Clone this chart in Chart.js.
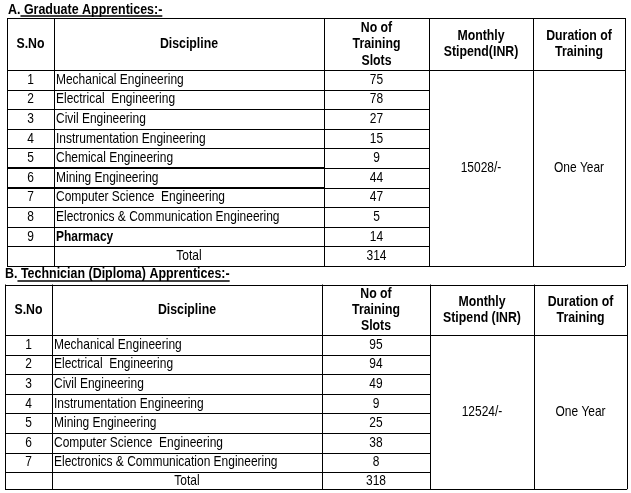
<!DOCTYPE html>
<html>
<head>
<meta charset="utf-8">
<script src="https://cdn.jsdelivr.net/npm/chart.js@4"></script>
<style>
  html, body { margin: 0; padding: 0; background: #fff; }
  #wrap { width: 631px; height: 493px; }
</style>
</head>
<body>
<div id="wrap"><canvas id="myChart" width="631" height="493"></canvas></div>
<script>
// --- data ---
const graduateTitle = "Graduate Apprentices:-";
const graduateDisciplines = [
  "Mechanical Engineering",
  "Electrical  Engineering",
  "Civil Engineering",
  "Instrumentation Engineering",
  "Chemical Engineering",
  "Mining Engineering",
  "Computer Science  Engineering",
  "Electronics & Communication Engineering",
  "Pharmacy",
];
const graduateSlots = [75, 78, 27, 15, 9, 44, 47, 5, 14];
const graduateTotal = 314;
const graduateStipend = "15028/-";
const graduateDuration = "One Year";

const diplomaTitle = "Technician (Diploma) Apprentices:-";
const diplomaDisciplines = [
  "Mechanical Engineering",
  "Electrical  Engineering",
  "Civil Engineering",
  "Instrumentation Engineering",
  "Mining Engineering",
  "Computer Science  Engineering",
  "Electronics & Communication Engineering",
];
const diplomaSlots = [95, 94, 49, 9, 25, 38, 8];
const diplomaTotal = 318;
const diplomaStipend = "12524/-";
const diplomaDuration = "One Year";

const headersA = ["S.No", "Discipline", "No of\nTraining\nSlots", "Monthly\nStipend(INR)", "Duration of\nTraining"];
const headersB = ["S.No", "Discipline", "No of\nTraining\nSlots", "Monthly\nStipend (INR)", "Duration of\nTraining"];

document.addEventListener("DOMContentLoaded", function () {
  const chartCanvas = document.getElementById("myChart");
  const ctx = chartCanvas.getContext("2d");

  // is the narrow face installed? otherwise squeeze the regular one
  const hasFont = (name) => {
    const probe = "abcdefghijklmnopqrstuvwxyz";
    ctx.font = "20px monospace";
    const a = ctx.measureText(probe).width;
    ctx.font = `20px "${name}", monospace`;
    const b = ctx.measureText(probe).width;
    return a !== b;
  };
  const narrow = hasFont("Liberation Sans Narrow");
  const FAMILY = narrow ? '"Liberation Sans Narrow"' : '"Liberation Sans", Arial';
  const SQUEEZE = narrow ? 1 : 0.82;

  // layout of each table, in page units (the scales turn them into pixels)
  const tables = [
    {
      title: "A.", sub: " " + graduateTitle, titleX: 8, titleY: 10, lineY: 16,
      headers: headersA, cols: [7, 54, 324, 429, 533, 625],
      top: 18, headBottom: 70, rowH: 19.6, totalH: 19.6, textX: 56,
      names: graduateDisciplines, slots: graduateSlots, total: graduateTotal,
      stipend: graduateStipend, duration: graduateDuration,
      boldRows: [8], thickRows: [5, 6], headLine: 16.5,
    },
    {
      title: "B.", sub: " " + diplomaTitle, titleX: 5, titleY: 274, lineY: 281,
      headers: headersB, cols: [5, 52, 322, 430, 534, 627],
      top: 284.5, headBottom: 335, rowH: 19.6, totalH: 17, textX: 54,
      names: diplomaDisciplines, slots: diplomaSlots, total: diplomaTotal,
      stipend: diplomaStipend, duration: diplomaDuration,
      boldRows: [], thickRows: [], headLine: 16,
    },
  ];

  const tablePlugin = {
    id: "tablePlugin",
    afterDraw(chart) {
      const c = chart.ctx;
      const sx = chart.scales.x;
      const sy = chart.scales.y;
      const X = (v) => sx.getPixelForValue(v);
      const Y = (v) => sy.getPixelForValue(v);
      const crisp = (p) => Math.round(p) + 0.5;

      const text = (str, x, y, align, bold, size) => {
        c.save();
        c.font = `${bold ? "bold " : ""}${size || 14.6}px ${FAMILY}`;
        c.fillStyle = "#000";
        c.textBaseline = "middle";
        c.textAlign = align;
        c.translate(x, y);
        c.scale(SQUEEZE, 1);
        c.fillText(str, 0, 0);
        const w = c.measureText(str).width * SQUEEZE;
        c.restore();
        return w;
      };
      const line = (x1, y1, x2, y2, w) => {
        c.save();
        c.strokeStyle = "#000";
        c.lineWidth = w || 1;
        c.beginPath();
        if (y1 === y2) {
          const yy = w === 2 ? Math.round(Y(y1)) : crisp(Y(y1));
          c.moveTo(X(x1), yy);
          c.lineTo(X(x2), yy);
        } else {
          const xx = crisp(X(x1));
          c.moveTo(xx, Y(y1));
          c.lineTo(xx, Y(y2));
        }
        c.stroke();
        c.restore();
      };

      tables.forEach((t) => {
        const cols = t.cols;
        const n = t.names.length;
        const rowTop = (i) => t.headBottom + i * t.rowH;
        const bottom = rowTop(n) + t.totalH;
        const mid = (a, b) => (a + b) / 2;

        // title, the part after the letter is underlined
        const w1 = text(t.title, X(t.titleX), Y(t.titleY), "left", true, 15.2);
        const w2 = text(t.sub, X(t.titleX) + w1, Y(t.titleY), "left", true, 15.2);
        c.save();
        c.strokeStyle = "#000";
        c.lineWidth = 1.3;
        c.beginPath();
        c.moveTo(X(t.titleX) + w1, Y(t.lineY));
        c.lineTo(X(t.titleX) + w1 + w2, Y(t.lineY));
        c.stroke();
        c.restore();

        // outer box and header
        line(cols[0], t.top, cols[5], t.top);
        line(cols[0], t.headBottom, cols[5], t.headBottom);
        line(cols[0], bottom, cols[5], bottom);
        cols.forEach((x) => line(x, t.top, x, bottom));

        // row separators (stipend / duration cells are merged)
        for (let i = 1; i <= n; i++) {
          const y = rowTop(i);
          if (t.thickRows.includes(i)) {
            line(cols[0], y, cols[2], y, 2);
            line(cols[2], y, cols[3], y);
          } else {
            line(cols[0], y, cols[3], y);
          }
        }

        // header text
        t.headers.forEach((h, k) => {
          const parts = h.split("\n");
          const cx = mid(cols[k], cols[k + 1]);
          const cy = mid(t.top, t.headBottom);
          parts.forEach((p, j) => {
            const y = cy + (j - (parts.length - 1) / 2) * t.headLine;
            text(p, X(cx), Y(y), "center", true, 15);
          });
        });

        // rows
        t.names.forEach((name, i) => {
          const cy = mid(rowTop(i), rowTop(i + 1));
          text(String(i + 1), X(mid(cols[0], cols[1])), Y(cy), "center", false);
          text(name, X(t.textX), Y(cy), "left", t.boldRows.includes(i));
          text(String(t.slots[i]), X(mid(cols[2], cols[3])), Y(cy), "center", false);
        });
        const ty = mid(rowTop(n), bottom);
        text("Total", X(mid(cols[1], cols[2])), Y(ty), "center", false);
        text(String(t.total), X(mid(cols[2], cols[3])), Y(ty), "center", false);

        // merged cells
        const my = mid(t.headBottom, bottom);
        text(t.stipend, X(mid(cols[3], cols[4])), Y(my), "center", false);
        text(t.duration, X(mid(cols[4], cols[5])), Y(my), "center", false);
      });
    },
  };

  new Chart(ctx, {
    type: "scatter",
    data: { datasets: [{ data: [] }] },
    options: {
      responsive: false,
      animation: false,
      layout: { padding: 0 },
      scales: {
        x: { type: "linear", min: 0, max: 631, display: false },
        y: { type: "linear", min: 0, max: 493, reverse: true, display: false },
      },
      plugins: {
        legend: { display: false },
        tooltip: { enabled: false },
      },
    },
    plugins: [
      {
        id: "whiteBg",
        beforeDraw(chart) {
          chart.ctx.save();
          chart.ctx.fillStyle = "#fff";
          chart.ctx.fillRect(0, 0, chart.width, chart.height);
          chart.ctx.restore();
        },
      },
      tablePlugin,
    ],
  });
});
</script>
</body>
</html>
